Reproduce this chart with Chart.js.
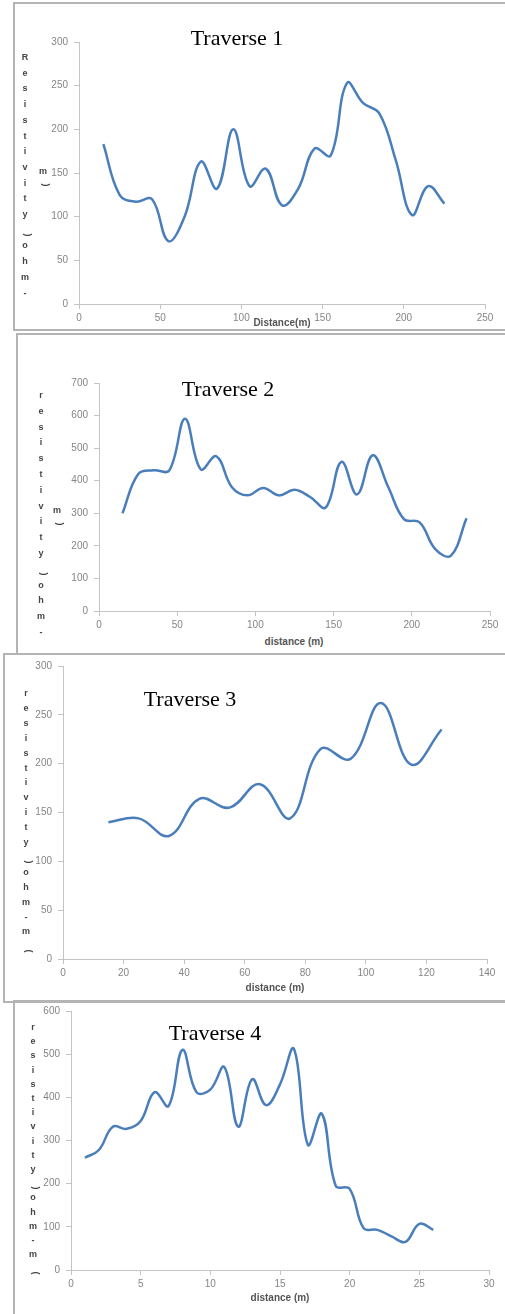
<!DOCTYPE html>
<html>
<head>
<meta charset="utf-8">
<script src="https://cdn.jsdelivr.net/npm/chart.js@4.4.0/dist/chart.umd.min.js"></script>
<style>
  body { margin: 0; background: #fff; }
  #page { position: relative; width: 505px; height: 1314px; overflow: hidden; }
  .frame { position: absolute; border: 2px solid #b4b4b4; box-sizing: border-box; }
  canvas { position: absolute; }
  .title { position: absolute; font-family: "Liberation Serif", serif; font-size: 22px; color: #000; transform: translate(-50%, -50%); white-space: nowrap; }
  .xtitle { position: absolute; font-family: "Liberation Sans", Arial, sans-serif; font-weight: bold; font-size: 10px; color: #555; transform: translate(-50%, -50%); white-space: nowrap; }
  .vletter { position: absolute; font-family: "Liberation Sans", Arial, sans-serif; font-weight: bold; font-size: 9px; color: #444; transform: translate(-50%, -50%); }
</style>
</head>
<body>
<div id="page">
  <div class="frame" style="left:13px;top:2px;width:510px;height:329px;"></div>
  <div class="frame" style="left:16px;top:333px;width:510px;height:322px;"></div>
  <div class="frame" style="left:3px;top:653px;width:520px;height:350px;"></div>
  <div class="frame" style="left:13px;top:1000px;width:510px;height:330px;"></div>
</div>
<script>
// traverse 1
const t1Distance = [15, 25, 35, 45, 55, 65, 75, 85, 95, 105, 115, 125, 135, 145, 155, 165, 175, 185, 195, 205, 215, 225];
const t1Resistivity = [183, 125, 117, 120, 72, 100, 163, 132, 200, 135, 155, 113, 132, 178, 170, 253, 230, 218, 165, 102, 135, 115];
const t1XTicks = [0, 50, 100, 150, 200, 250];
const t1YTicks = [0, 50, 100, 150, 200, 250, 300];

// traverse 2
const t2Distance = [15, 25, 35, 45, 55, 65, 75, 85, 95, 105, 115, 125, 135, 145, 155, 165, 175, 185, 195, 205, 215, 225, 235];
const t2Resistivity = [300, 420, 432, 432, 590, 435, 475, 380, 355, 378, 355, 372, 350, 318, 458, 358, 478, 380, 282, 272, 190, 170, 285];
const t2XTicks = [0, 50, 100, 150, 200, 250];
const t2YTicks = [0, 100, 200, 300, 400, 500, 600, 700];

// traverse 3
const t3Distance = [15, 25, 35, 45, 55, 65, 75, 85, 95, 105, 115, 125];
const t3Resistivity = [140, 144, 126, 164, 155, 179, 144, 215, 205, 262, 199, 235];
const t3XTicks = [0, 20, 40, 60, 80, 100, 120, 140];
const t3YTicks = [0, 50, 100, 150, 200, 250, 300];

// traverse 4
const t4Distance = [1, 2, 3, 4, 5, 6, 7, 8, 9, 10, 11, 12, 13, 14, 15, 16, 17, 18, 19, 20, 21, 22, 23, 24, 25, 26];
const t4Resistivity = [260, 278, 332, 327, 345, 412, 380, 510, 412, 418, 470, 332, 442, 382, 430, 512, 290, 362, 195, 188, 97, 93, 78, 65, 107, 93];
const t4XTicks = [0, 5, 10, 15, 20, 25, 30];
const t4YTicks = [0, 100, 200, 300, 400, 500, 600];

const titles = ["Traverse 1", "Traverse 2", "Traverse 3", "Traverse 4"];
const xTitles = ["Distance(m)", "distance (m)", "distance  (m)", "distance (m)"];

const page = document.getElementById("page");

// plot area boxes in page pixels, plus where the texts sit
const panels = [
  { plot: [79, 42, 485, 304], title: [237, 38], xt: [282, 322], vx: 25, vy: 57, vstep: 15.7,
    letters: "Resistivity(ohm-", extra: [43, 171],
    xs: t1Distance, ys: t1Resistivity, xt_: t1XTicks, yt_: t1YTicks },
  { plot: [99, 383, 490, 611], title: [228, 389], xt: [294, 641], vx: 41, vy: 395, vstep: 15.8,
    letters: "resistivity(ohm-", extra: [57, 510],
    xs: t2Distance, ys: t2Resistivity, xt_: t2XTicks, yt_: t2YTicks },
  { plot: [63, 666, 487, 959], title: [190, 699], xt: [275, 987], vx: 26, vy: 693, vstep: 14.9,
    letters: "resistivity(ohm-m)", extra: null,
    xs: t3Distance, ys: t3Resistivity, xt_: t3XTicks, yt_: t3YTicks },
  { plot: [71, 1011, 489, 1270], title: [215, 1033], xt: [280, 1297], vx: 33, vy: 1027, vstep: 14.2,
    letters: "resistivity(ohm-m)", extra: null,
    xs: t4Distance, ys: t4Resistivity, xt_: t4XTicks, yt_: t4YTicks },
];

function addText(cls, text, x, y, extraStyle) {
  const d = document.createElement("div");
  d.className = cls;
  d.textContent = text;
  d.style.left = x + "px";
  d.style.top = y + "px";
  if (extraStyle) d.style.transform += extraStyle;
  page.appendChild(d);
  return d;
}

const axisGray = "#c4c4c4";
const tickFont = { family: "'Liberation Sans', Arial, sans-serif", size: 10 };

panels.forEach((p, i) => {
  const [pl, pt, pr, pb] = p.plot;
  const yAxisW = 40, xAxisH = 24, padTop = 12, padRight = 16;
  const left = pl - yAxisW, top = pt - padTop;
  const w = pr + padRight - left, h = pb + xAxisH - top;

  const canvas = document.createElement("canvas");
  canvas.width = w;
  canvas.height = h;
  canvas.style.left = left + "px";
  canvas.style.top = top + "px";
  canvas.style.width = w + "px";
  canvas.style.height = h + "px";
  page.appendChild(canvas);

  const xt = p.xt_, yt = p.yt_;
  new Chart(canvas.getContext("2d"), {
    type: "line",
    data: {
      datasets: [{
        data: p.xs.map((x, k) => ({ x: x, y: p.ys[k] })),
        borderColor: "#4a7ebb",
        borderWidth: 2.5,
        pointRadius: 0,
        tension: 0.4,
        fill: false,
      }],
    },
    options: {
      responsive: false,
      animation: false,
      layout: { padding: { top: padTop, right: padRight, left: 0, bottom: 0 } },
      plugins: { legend: { display: false }, tooltip: { enabled: false } },
      scales: {
        x: {
          type: "linear",
          min: xt[0],
          max: xt[xt.length - 1],
          afterBuildTicks: (s) => { s.ticks = xt.map((v) => ({ value: v })); },
          afterFit: (s) => { s.height = xAxisH; },
          grid: { drawOnChartArea: false, drawTicks: true, tickLength: 5, color: axisGray },
          border: { display: true, color: axisGray, width: 1 },
          ticks: { color: "#858585", font: tickFont, padding: 3, maxRotation: 0 },
        },
        y: {
          type: "linear",
          min: yt[0],
          max: yt[yt.length - 1],
          afterBuildTicks: (s) => { s.ticks = yt.map((v) => ({ value: v })); },
          afterFit: (s) => { s.width = yAxisW; },
          grid: { drawOnChartArea: false, drawTicks: true, tickLength: 5, color: axisGray },
          border: { display: true, color: axisGray, width: 1 },
          ticks: { color: "#858585", font: tickFont, padding: 6 },
        },
      },
    },
  });

  addText("title", titles[i], p.title[0], p.title[1]);
  addText("xtitle", xTitles[i], p.xt[0], p.xt[1]);

  // stacked y axis label letters
  [...p.letters].forEach((ch, k) => {
    const rot = (ch === "(" || ch === ")") ? " rotate(-90deg)" : "";
    addText("vletter", ch, p.vx, p.vy + k * p.vstep, rot);
  });
  if (p.extra) {
    addText("vletter", "m", p.extra[0], p.extra[1]);
    addText("vletter", "(", p.extra[0], p.extra[1] + 9, " rotate(-90deg)");
  }
});
</script>
</body>
</html>
